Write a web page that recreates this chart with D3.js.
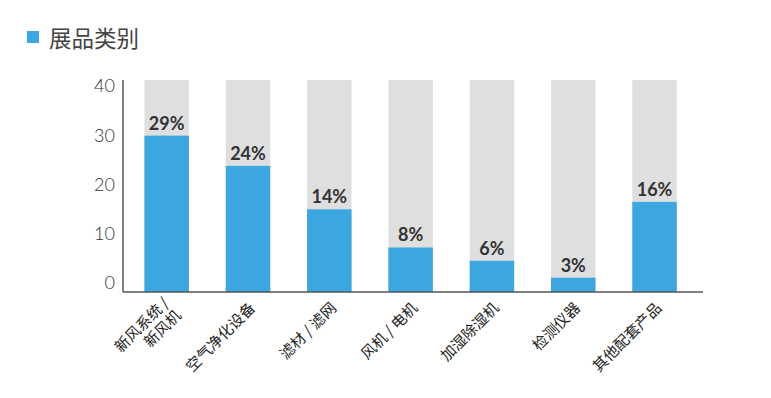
<!DOCTYPE html>
<html>
<head>
<meta charset="utf-8">
<script src="https://cdn.jsdelivr.net/npm/d3@7"></script>
<style>
  body { margin: 0; background: #fff; }
  svg { display: block; }
</style>
</head>
<body>
<div id="chart"></div>
<script>
// data
const categories = ["新风系统 /|新风机", "空气净化设备", "滤材 / 滤网", "风机 / 电机", "加湿除湿机", "检测仪器", "其他配套产品"];
const values = [29.5, 23.8, 15.6, 8.4, 5.9, 2.7, 17.0];
const pctLabels = ["29%", "24%", "14%", "8%", "6%", "3%", "16%"];
const yTicks = [0, 10, 20, 30, 40];
const legendLabel = "展品类别";

const width = 771;
const height = 398;
const blue = "#3ba6df";
const grey = "#dfdfdf";

const svg = d3.select("#chart").append("svg")
  .attr("width", width)
  .attr("height", height);

const xScale = d3.scaleBand()
  .domain(d3.range(categories.length))
  .range([123, 703])
  .paddingInner(0.453)
  .paddingOuter(0.293)
  .align(0.45);

const yScale = d3.scaleLinear()
  .domain([0, 40])
  .range([292, 80]);

// the tick labels in the picture sit a bit off the bar scale
const tickScale = d3.scaleLinear()
  .domain([0, 40])
  .range([283, 86]);

// legend
svg.append("rect")
  .attr("x", 27).attr("y", 31)
  .attr("width", 12).attr("height", 12)
  .attr("fill", blue);
svg.append("text")
  .attr("x", 49).attr("y", 47)
  .attr("font-family", "'Noto Sans CJK SC'")
  .attr("font-size", 22.5)
  .attr("fill", "#444")
  .text(legendLabel);

// grey backdrop bars
svg.selectAll(".bg")
  .data(values)
  .enter().append("rect")
  .attr("class", "bg")
  .attr("x", (d, i) => xScale(i))
  .attr("y", yScale(40))
  .attr("width", xScale.bandwidth())
  .attr("height", yScale(0) - yScale(40))
  .attr("fill", grey);

svg.selectAll(".bar")
  .data(values)
  .enter().append("rect")
  .attr("class", "bar")
  .attr("x", (d, i) => xScale(i))
  .attr("y", d => yScale(d))
  .attr("width", xScale.bandwidth())
  .attr("height", d => yScale(0) - yScale(d))
  .attr("fill", blue);

svg.selectAll(".pct")
  .data(values)
  .enter().append("text")
  .attr("class", "pct")
  .attr("x", (d, i) => xScale(i) + xScale.bandwidth() / 2)
  .attr("y", d => yScale(d) - 6)
  .attr("text-anchor", "middle")
  .attr("font-family", "Lato")
  .attr("font-weight", "bold")
  .attr("font-size", 18)
  .attr("fill", "#333")
  .text((d, i) => pctLabels[i]);

// y axis
const yAxis = svg.append("g")
  .attr("transform", "translate(123,0)")
  .call(d3.axisLeft(tickScale).tickValues(yTicks).tickSize(0).tickPadding(8));
yAxis.select(".domain").remove();
yAxis.selectAll("text")
  .attr("font-family", "Lato")
  .attr("font-weight", 300)
  .attr("font-size", 18)
  .attr("fill", "#333");

svg.append("line")
  .attr("x1", 123).attr("x2", 123)
  .attr("y1", yScale(40)).attr("y2", yScale(0))
  .attr("stroke", "#555").attr("stroke-width", 1.5);
svg.append("line")
  .attr("x1", 123).attr("x2", 703)
  .attr("y1", yScale(0)).attr("y2", yScale(0))
  .attr("stroke", "#555").attr("stroke-width", 1.5);

// rotated category labels
const cat = svg.selectAll(".cat")
  .data(categories)
  .enter().append("text")
  .attr("class", "cat")
  .attr("transform", (d, i) => {
    const cx = xScale(i) + xScale.bandwidth() / 2;
    return `translate(${cx + 8},${309}) rotate(-45)`;
  })
  .attr("text-anchor", "end")
  .attr("font-family", "'Noto Sans CJK SC'")
  .attr("font-size", 15)
  .attr("fill", "#222")
  .attr("xml:space", "preserve");

cat.each(function (d) {
  const lines = d.split("|");
  const t = d3.select(this);
  lines.forEach((ln, j) => {
    t.append("tspan")
      .attr("x", 0)
      .attr("dy", j === 0 ? (lines.length > 1 ? "-0.45em" : 0) : "1.15em")
      .text(ln);
  });
});
</script>
</body>
</html>
